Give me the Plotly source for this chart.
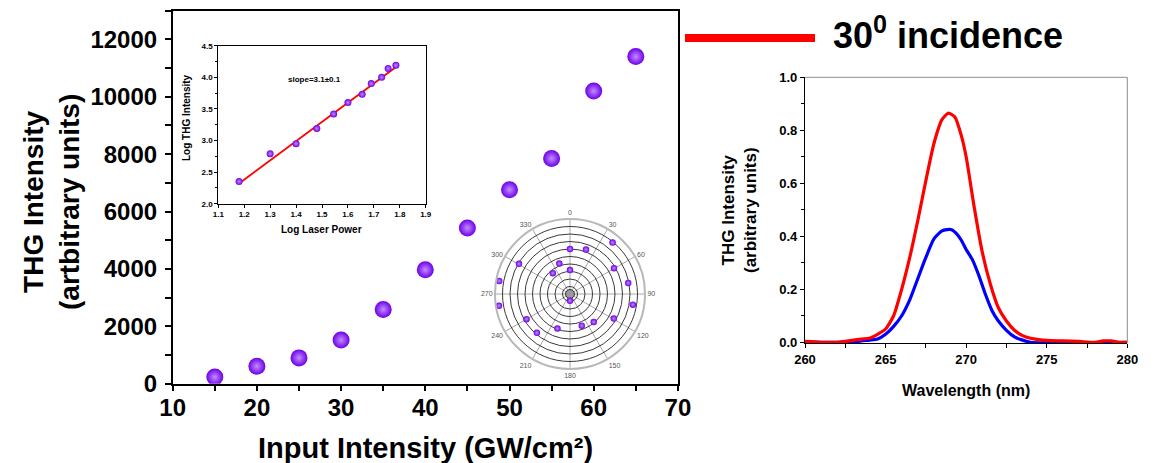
import plotly.graph_objects as go

W, H = 1157, 463
FONT = "Liberation Sans, Arial, sans-serif"
# the page body adds an 8 px offset; positions below are given in screen pixels
OFF_X, OFF_Y = 8, 8

# ---------------- data ----------------
# main panel: THG intensity vs input intensity
input_intensity = [15, 20, 25, 30, 35, 40, 45, 50, 55, 60, 65]
thg_intensity = [230, 610, 900, 1520, 2590, 3970, 5430, 6760, 7850, 10200, 11400]

# inset: log-log plot
log_laser_power = [1.18, 1.30, 1.40, 1.48, 1.545, 1.60, 1.655, 1.69, 1.73, 1.755, 1.785]
log_thg_intensity = [2.35, 2.79, 2.95, 3.19, 3.42, 3.60, 3.73, 3.90, 4.00, 4.14, 4.19]
fit_log_power = [1.18, 1.788]
fit_log_thg = [2.32, 4.17]
slope_text = "slope=3.1\u00b10.1"

# polar inset
polar_theta = [39.6, 0, 19.8, 300.6, 340.6, 0, 320.5, 59.6, 280.4, 79.3,
               260.6, 99.6, 180, 240, 220.5, 200, 159.6, 139.7, 119.3]
polar_r = [8.9, 6.0, 6.3, 7.9, 4.3, 3.2, 3.6, 6.8, 9.6, 7.9,
           9.6, 8.5, 0.9, 6.7, 6.8, 4.9, 4.5, 4.9, 6.7]
polar_ticks = [0, 30, 60, 90, 120, 150, 180, 210, 240, 270, 300, 330]

# right panel: THG spectra
wl_red = [260, 261, 262, 262.5, 263, 263.5, 264, 264.5, 265, 265.5, 266, 266.5,
          267, 267.5, 268, 268.5, 268.9, 269.3, 269.7, 270, 270.5, 271, 271.5,
          272, 272.5, 273, 273.5, 274, 274.5, 275, 276, 277, 278, 278.5, 279, 279.5, 280]
int_red = [0.003, 0.0, 0.0, 0.003, 0.008, 0.012, 0.015, 0.03, 0.05, 0.10, 0.20, 0.32,
           0.46, 0.61, 0.75, 0.84, 0.865, 0.85, 0.78, 0.70, 0.51, 0.34, 0.22,
           0.13, 0.08, 0.045, 0.025, 0.015, 0.01, 0.007, 0.005, 0.003, 0.0, 0.005, 0.005, 0.0, 0.0]
wl_blue = [260, 263, 263.5, 264, 264.5, 265, 265.5, 266, 266.5, 267, 267.5, 268,
           268.5, 268.8, 269.1, 269.4, 269.7, 270, 270.4, 270.8, 271.2, 271.6, 272, 272.5,
           273, 273.5, 274, 280]
int_blue = [0.0, 0.0, 0.005, 0.008, 0.012, 0.03, 0.06, 0.10, 0.16, 0.24, 0.32, 0.39,
            0.42, 0.425, 0.425, 0.41, 0.385, 0.35, 0.31, 0.25, 0.18, 0.12, 0.08, 0.045,
            0.02, 0.008, 0.0, 0.0]
legend_label = "30<sup>0</sup> incidence"


def px_x(p):
    return (p - OFF_X) / W


def px_y(p):
    return 1 - (p - OFF_Y) / H


# radial gradient: gradient.color is the centre colour, marker.color the rim
sphere = dict(color="#6c00e8", gradient=dict(type="radial", color="#c48cff"),
              line=dict(width=0))

fig = go.Figure()

# main scatter
fig.add_trace(go.Scatter(x=input_intensity, y=thg_intensity, mode="markers",
                         marker=dict(size=17, **sphere), xaxis="x", yaxis="y",
                         showlegend=False))

# inset
fig.add_trace(go.Scatter(x=fit_log_power, y=fit_log_thg, mode="lines",
                         line=dict(color="#ff0000", width=1.8), xaxis="x2", yaxis="y2",
                         showlegend=False))
fig.add_trace(go.Scatter(x=log_laser_power, y=log_thg_intensity, mode="markers",
                         marker=dict(size=7, **sphere), xaxis="x2", yaxis="y2",
                         showlegend=False))

# spectra
fig.add_trace(go.Scatter(x=wl_blue, y=int_blue, mode="lines",
                         line=dict(color="#0000ff", width=3.2, shape="spline", smoothing=0.6),
                         xaxis="x3", yaxis="y3", showlegend=False))
fig.add_trace(go.Scatter(x=wl_red, y=int_red, mode="lines",
                         line=dict(color="#ff0000", width=3.2, shape="spline", smoothing=0.6),
                         xaxis="x3", yaxis="y3", showlegend=False))

# polar
fig.add_trace(go.Scatterpolar(r=[0], theta=[0], mode="markers",
                              marker=dict(size=9, color="#9a9a9a", line=dict(color="#333", width=1)),
                              subplot="polar", showlegend=False, hoverinfo="skip"))
fig.add_trace(go.Scatterpolar(r=polar_r, theta=polar_theta, mode="markers",
                              marker=dict(size=6.5, **sphere), subplot="polar",
                              showlegend=False))

bold = dict(family=FONT, color="black", weight="bold")
common = dict(showline=True, linecolor="black", showgrid=False, zeroline=False,
              automargin=False, tickcolor="black")

main_x = dict(domain=[px_x(172.7), px_x(677.9)], range=[10, 70], tick0=10, dtick=10,
              ticks="outside", ticklen=6, tickwidth=1.5, linewidth=1.5, mirror=True,
              minor=dict(dtick=5, tick0=10, ticks="outside", ticklen=6, tickwidth=1.5,
                         tickcolor="black"),
              ticklabelstandoff=-4,
              tickfont=dict(size=24, **bold), anchor="y", **common)
main_y = dict(domain=[px_y(383.7), px_y(10.7)], range=[0, 13000], tick0=0, dtick=2000,
              tickformat="d",
              ticks="outside", ticklen=6, tickwidth=1.5, linewidth=1.5, mirror=True,
              minor=dict(dtick=1000, tick0=0, ticks="outside", ticklen=6, tickwidth=1.5,
                         tickcolor="black"),
              ticklabelstandoff=3,
              tickfont=dict(size=24, **bold), anchor="x", **common)

inset_x = dict(domain=[px_x(218.3), px_x(425.7)], range=[1.1, 1.9], tick0=1.1, dtick=0.1,
               tickformat=".1f", ticks="outside", ticklen=3, tickwidth=1, linewidth=1,
               mirror=True, tickfont=dict(size=8, **bold), anchor="y2", **common)
inset_y = dict(domain=[px_y(203.7), px_y(45.7)], range=[2.0, 4.5], tick0=2.0, dtick=0.5,
               tickformat=".1f", ticks="outside", ticklen=3, tickwidth=1, linewidth=1,
               mirror=True,
               minor=dict(dtick=0.25, tick0=2.0, ticks="outside", ticklen=2, tickcolor="black"),
               tickfont=dict(size=8, **bold), anchor="x2", **common)

spec_x = dict(domain=[px_x(805), px_x(1127.3)], range=[260, 280], tick0=260, dtick=5,
              ticks="outside", ticklen=4, tickwidth=1.2, linewidth=1.2, mirror=False,
              minor=dict(dtick=2.5, tick0=260, ticks="outside", ticklen=4, tickcolor="black"),
              tickfont=dict(size=13, **bold), anchor="y3", **common)
spec_y = dict(domain=[px_y(343.3), px_y(77.3)], range=[-0.004, 1.0], tick0=0, dtick=0.2,
              tickformat=".1f", ticks="outside", ticklen=4, tickwidth=1.2, linewidth=1.2,
              mirror=False,
              minor=dict(dtick=0.1, tick0=0, ticks="outside", ticklen=3, tickcolor="black"),
              tickfont=dict(size=13, **bold), anchor="x3", **common)

fig.update_layout(
    template="none",
    width=W, height=H, margin=dict(l=0, r=0, t=0, b=0, pad=0, autoexpand=False),
    paper_bgcolor="white", plot_bgcolor="white",
    font=dict(family=FONT, color="black"),
    xaxis=main_x, yaxis=main_y,
    xaxis2=inset_x, yaxis2=inset_y,
    xaxis3=spec_x, yaxis3=spec_y,
    polar=dict(
        domain=dict(x=[px_x(495), px_x(645)], y=[px_y(369), px_y(219)]),
        bgcolor="white",
        radialaxis=dict(range=[0, 10], dtick=1, showticklabels=False, ticks="",
                        showline=False, gridcolor="#3a3a3a", gridwidth=1.4),
        angularaxis=dict(rotation=90, direction="clockwise", tickmode="array",
                         tickvals=polar_ticks, ticktext=[str(t) for t in polar_ticks], ticks="",
                         gridcolor="#a8a8a8", gridwidth=1, linecolor="#b8b8b8", linewidth=2,
                         tickfont=dict(size=7, color="#555555", family=FONT)),
    ),
    showlegend=False,
)

# right panel frame (top/right in gray)
fig.add_shape(type="line", xref="x3 domain", yref="y3 domain", x0=0, x1=1, y0=1, y1=1,
              line=dict(color="#8c8c8c", width=1))
fig.add_shape(type="line", xref="x3 domain", yref="y3 domain", x0=1, x1=1, y0=0, y1=1,
              line=dict(color="#8c8c8c", width=1))

# legend sample (red bar + label)
fig.add_shape(type="line", xref="paper", yref="paper", x0=px_x(685), x1=px_x(815),
              y0=px_y(38), y1=px_y(38), line=dict(color="#ff0000", width=8))


def note(text, x, y, size, angle=0, xanchor="center", xref="paper", yref="paper"):
    return dict(text=text, x=x, y=y, xref=xref, yref=yref, textangle=angle,
                showarrow=False, xanchor=xanchor, yanchor="middle",
                font=dict(size=size, **bold))


annotations = [
    note(legend_label, px_x(831), px_y(33), 36, xanchor="left"),
    # main titles
    note("THG Intensity<br>(artbitrary units)", px_x(51), px_y(202), 28, angle=-90),
    note("Input Intensity (GW/cm\u00b2)", px_x(425), px_y(448), 29),
    # inset titles
    note("Log THG Intensity", px_x(186.5), px_y(117.5), 10, angle=-90),
    note("Log Laser Power", px_x(321.7), px_y(230), 10),
    note(slope_text, 1.47, 3.97, 8, xref="x2", yref="y2"),
    # spectra titles
    note("THG Intensity<br>(arbitrary units)", px_x(739), px_y(210), 17, angle=-90),
    note("Wavelength (nm)", px_x(966), px_y(390), 16),
]
fig.update_layout(annotations=annotations)

fig.write_html("out.html")
